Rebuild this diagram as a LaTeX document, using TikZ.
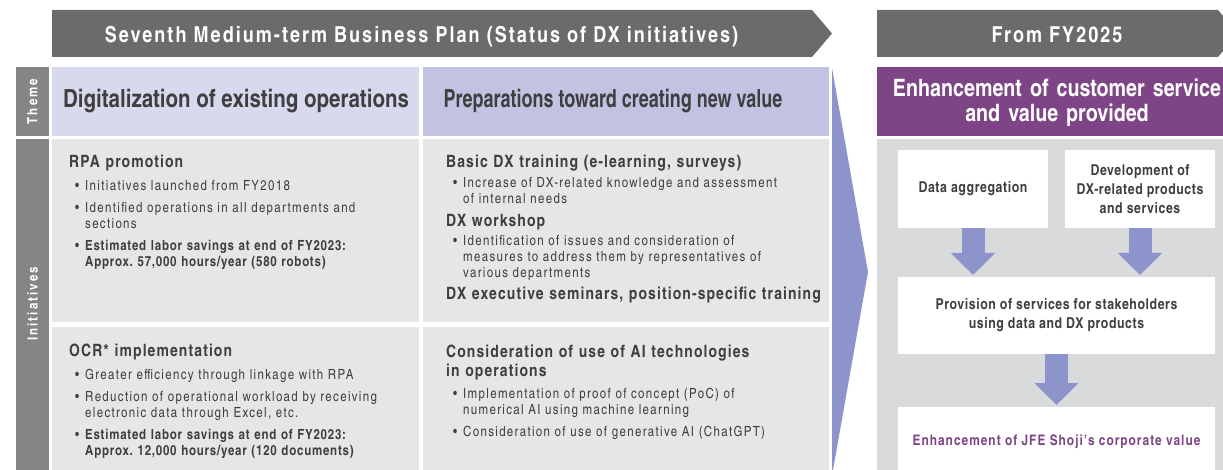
\documentclass[tikz,border=0pt]{standalone}
\usepackage{graphicx}
\usepackage{fontspec}
\setmainfont{TeX Gyre Heros Cn}
\frenchspacing
\usetikzlibrary{arrows.meta}
\definecolor{bannergray}{HTML}{6B6B6D}
\definecolor{labelgray}{HTML}{858588}
\definecolor{themeleft}{HTML}{D8D9EE}
\definecolor{themeright}{HTML}{C2C3E3}
\definecolor{cellgray}{HTML}{E6E6E8}
\definecolor{panelgray}{HTML}{D9DADC}
\definecolor{dxblue}{HTML}{8D93CB}
\definecolor{dxpurple}{HTML}{7E4586}
\definecolor{textgray}{HTML}{3F3F41}
\newcommand{\bul}{\makebox[10pt][l]{\textbullet}}
\newcommand{\ind}{\hspace*{10pt}}
\newcommand{\spaced}[1]{\addfontfeature{LetterSpace=#1}}
\newcommand{\boldline}[1]{{\bfseries\spaced{5.6}#1}}
\tikzstyle{block}=[anchor=north west, inner sep=0, outer sep=0]
\tikzstyle{sidelabel}=[rotate=90, inner sep=0, text=white, font=\bfseries\fontsize{14}{14}\selectfont\spaced{15}]
\tikzstyle{banner}=[anchor=base, inner sep=0, text=white, font=\bfseries\fontsize{22}{22}\selectfont\spaced{9.2}]
\tikzstyle{themetext}=[anchor=base, inner sep=0, text=textgray, font=\bfseries\fontsize{25}{25}\selectfont]
\tikzstyle{itemtitle}=[anchor=base west, inner sep=0, text width=390pt, text=textgray, font=\bfseries\fontsize{17}{19}\selectfont\spaced{6.5}]
\tikzstyle{itemlist}=[anchor=base west, inner sep=0, text width=390pt, text=textgray, font=\fontsize{14}{16}\selectfont\spaced{9.6}]
\tikzstyle{whitebox}=[block, fill=white, align=center, text=textgray, font=\bfseries\fontsize{15}{19}\selectfont\spaced{3.9}]
\tikzstyle{blockarrow}=[draw=dxblue, line width=23pt, -{Triangle[width=43pt, length=22pt]}, shorten >=2pt]

\begin{document}
\begin{tikzpicture}[x=1pt, y=-1pt]
    \useasboundingbox (0,0) rectangle (1223,470);
    \clip (0,0) rectangle (1223,470);
    % Banners.
    \fill[bannergray] (52,10) -- (812,10) -- (832,33.5) -- (812,57) -- (52,57) -- cycle;
    \fill[bannergray] (877,10) -- (1218,10) -- (1238,33.5) -- (1218,57) -- (877,57) -- cycle;
    \node[banner] (P) at (421.5,43) {Seventh Medium-term Business Plan (Status of DX initiatives)};
    \node[banner] (F) at (1057,43) {From FY2025};
    % Row labels.
    \node[block, fill=labelgray, minimum width=33pt, minimum height=69pt]  (L1) at (16,67) {};
    \node[block, fill=labelgray, minimum width=33pt, minimum height=331pt] (L2) at (16,139) {};
    \node[sidelabel] (L1t) at (L1.center) {Theme};
    \node[sidelabel] (L2t) at (32.5,304) {Initiatives};
    % Cells.
    \node[block, fill=themeleft,  minimum width=367pt, minimum height=69pt]  (T1) at (52,67) {};
    \node[block, fill=themeright, minimum width=406pt, minimum height=69pt]  (T2) at (423,67) {};
    \node[block, fill=cellgray,   minimum width=367pt, minimum height=183pt] (C1) at (52,139) {};
    \node[block, fill=cellgray,   minimum width=406pt, minimum height=183pt] (C2) at (423,139) {};
    \node[block, fill=cellgray,   minimum width=367pt, minimum height=143pt] (C3) at (52,327) {};
    \node[block, fill=cellgray,   minimum width=406pt, minimum height=143pt] (C4) at (423,327) {};
    \node[themetext] (T1t) at (236,108) {Digitalization of existing operations};
    \node[themetext] (T2t) at (613,108) {\scalebox{0.877}[1]{Preparations toward creating new value}};
    \node[itemtitle] (C1h) at (69,168) {RPA promotion};
    \node[itemlist]  (C1i) at (75,191) {\bul Initiatives launched from FY2018\\[6pt]
        \bul Identified operations in all departments and\\ \ind sections\\[6pt]
        \bul\boldline{Estimated labor savings at end of FY2023:}\\ \ind\boldline{Approx. 57,000 hours/year (580 robots)}};
    \node[itemtitle] (C2h) at (446,168) {Basic DX training (e-learning, surveys)};
    \node[itemlist]  (C2i) at (453,188) {\bul Increase of DX-related knowledge and assessment\\ \ind of internal needs};
    \node[itemtitle] (C2j) at (446,227) {DX workshop};
    \node[itemlist]  (C2k) at (453,246) {\bul Identification of issues and consideration of\\
        \ind measures to address them by representatives of\\ \ind various departments};
    \node[itemtitle] (C2l) at (446,299) {DX executive seminars, position-specific training};
    \node[itemtitle] (C3h) at (69,356) {OCR* implementation};
    \node[itemlist]  (C3i) at (75,379) {\bul Greater efficiency through linkage with RPA\\[6pt]
        \bul Reduction of operational workload by receiving\\ \ind electronic data through Excel, etc.\\[6pt]
        \bul\boldline{Estimated labor savings at end of FY2023:}\\ \ind\boldline{Approx. 12,000 hours/year (120 documents)}};
    \node[itemtitle] (C4h) at (446,357) {Consideration of use of AI technologies\\in operations};
    \node[itemlist]  (C4i) at (453,398) {\bul Implementation of proof of concept (PoC) of\\ \ind numerical AI using machine learning\\[6pt]
        \bul Consideration of use of generative AI (ChatGPT)};
    % Transition.
    \fill[dxblue] (832,68) -- (868,272) -- (833,470) -- (832,470) -- cycle;
    % From FY2025.
    \node[block, fill=dxpurple,  minimum width=346pt, minimum height=69pt]  (E) at (877,67) {};
    \node[block, fill=panelgray, minimum width=346pt, minimum height=331pt] (G) at (877,139) {};
    \node[anchor=base, inner sep=0, text width=400pt, align=center, text=white,
          font=\bfseries\fontsize{24}{25}\selectfont] (Et) at (1057,97) {Enhancement of customer service\\and value provided};
    \node[whitebox, minimum width=150pt, minimum height=78pt] (DA) at (898,150) {Data aggregation};
    \node[whitebox, minimum width=150pt, minimum height=78pt] (DV) at (1065,150) {Development of\\DX-related products\\and services};
    \node[whitebox, minimum width=317pt, minimum height=77pt] (PV) at (898,277) {Provision of services for stakeholders\\using data and DX products};
    \node[whitebox, minimum width=317pt, minimum height=70pt, text=dxpurple,
          font=\bfseries\fontsize{14.5}{17}\selectfont\spaced{7}] (EV) at (898,407) {Enhancement of JFE Shoji’s corporate value};
    \draw[blockarrow] (DA.south) -- (DA.south |- PV.north);
    \draw[blockarrow] (DV.south) -- (DV.south |- PV.north);
    \draw[blockarrow] (PV.south) -- (EV.north);
\end{tikzpicture}
\end{document}
